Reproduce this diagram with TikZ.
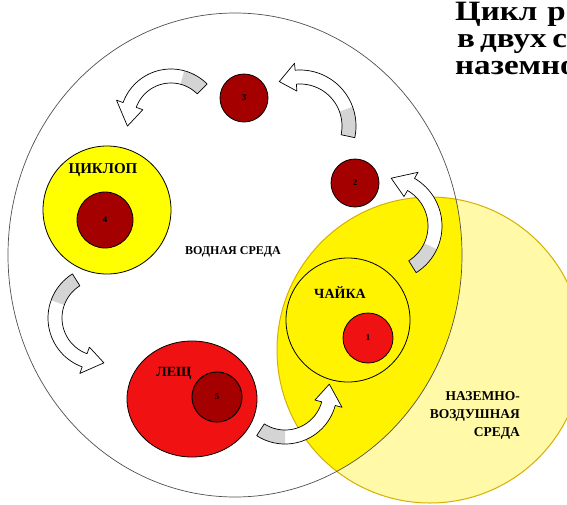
\documentclass[tikz,border=0pt]{standalone}
\usepackage{fontspec}
\setmainfont{Liberation Serif}
\newfontfamily\titlefont{Liberation Serif}[FakeStretch=1.18]
\usetikzlibrary{shapes.geometric}
\definecolor{dred}{RGB}{165,0,0}
\definecolor{bred}{RGB}{240,18,18}
\definecolor{yel}{RGB}{255,243,0}
\definecolor{cyel}{RGB}{255,255,0}
\definecolor{pale}{RGB}{255,249,168}
\definecolor{gold}{RGB}{214,176,0}
\definecolor{agray}{RGB}{212,212,212}
\definecolor{wline}{RGB}{80,80,80}
\def\aw{7}\def\ah{14}
% curved block arrow outline: centre x, centre y, radius, tail angle, head-base angle, tip offset
\newcommand{\arrowshape}[6]{%
 plot[domain=#4:#5, samples=40, variable=\t] ({#1+(#3+\aw)*cos(\t)},{#2+(#3+\aw)*sin(\t)})
 -- ({#1+(#3+\ah)*cos(#5)},{#2+(#3+\ah)*sin(#5)})
 -- ({#1+#3*cos(#5+#6)},{#2+#3*sin(#5+#6)})
 -- ({#1+(#3-\ah)*cos(#5)},{#2+(#3-\ah)*sin(#5)})
 -- plot[domain=#5:#4, samples=40, variable=\t] ({#1+(#3-\aw)*cos(\t)},{#2+(#3-\aw)*sin(\t)})
 -- cycle}
\newcommand{\bandshape}[5]{%
 plot[domain=#4:#5, samples=30, variable=\t] ({#1+(#3+\aw)*cos(\t)},{#2+(#3+\aw)*sin(\t)})
 -- plot[domain=#5:#4, samples=30, variable=\t] ({#1+(#3-\aw)*cos(\t)},{#2+(#3-\aw)*sin(\t)})
 -- cycle}
\newcommand{\arrowfill}[7]{%
 \fill[white] \arrowshape{#1}{#2}{#3}{#4}{#5}{#6};
 \fill[agray] \bandshape{#1}{#2}{#3}{#4}{#7};}
\newcommand{\arrowline}[6]{%
 \draw[black, line width=0.7pt, line join=round] \arrowshape{#1}{#2}{#3}{#4}{#5}{#6};}
\newcommand{\blockarrow}[7]{\arrowfill{#1}{#2}{#3}{#4}{#5}{#6}{#7}\arrowline{#1}{#2}{#3}{#4}{#5}{#6}}
\begin{document}
\begin{tikzpicture}[x=1pt,y=-1pt,
  ball/.style={circle, draw=black, line width=0.8pt, inner sep=0pt, font=\bfseries\fontsize{9}{10}\selectfont},
  lbl/.style={inner sep=0pt, font=\bfseries\fontsize{14}{15}\selectfont},
  small/.style={inner sep=0pt, font=\bfseries\fontsize{12}{13}\selectfont},
  side/.style={inner sep=0pt, anchor=base east, font=\bfseries\fontsize{13.5}{14}\selectfont},
  head/.style={inner sep=0pt, anchor=base west, font=\titlefont\bfseries\fontsize{28}{29}\selectfont}]
\useasboundingbox (0,0) rectangle (567,504);
\fill[white] (0,0) rectangle (567,504);
\def\landshape{(430,350) circle [radius=153]}
% land-air environment (pale part)
\fill[pale] \landshape;
% overlap with the water environment
\begin{scope}
 \clip (235,255) ellipse [x radius=227, y radius=242];
 \fill[yel] \landshape;
\end{scope}
\draw[gold, line width=1pt] \landshape;
% water environment
\draw[wline, line width=0.7pt] (235,255) ellipse [x radius=227, y radius=242];
% arrows
\blockarrow{171}{120}{44}{-45}{-160}{-28}{-75}
\blockarrow{300}{126}{49}{12}{-95}{-20}{-20}
\blockarrow{387}{226}{48}{58}{-60}{-25}{25}
\blockarrow{100}{318}{45}{238}{110}{-25}{200}
\arrowfill{285}{392}{45}{123}{15}{-25}{90}
% nodes
\node[ball, fill=dred, minimum size=48pt] (c3) at (244,98) {3};
\node[ball, fill=dred, minimum size=48pt] (c2) at (355,183) {2};
\node[circle, draw=black, line width=0.8pt, fill=cyel, minimum size=128pt] (cyclops) at (107,210) {};
\node[ball, fill=dred, minimum size=56pt] (c4) at (105,220) {4};
\node[lbl, font=\bfseries\fontsize{15}{16}\selectfont] (tcyc) at (103,170) {ЦИКЛОП};
\node[ellipse, draw=black, line width=0.8pt, fill=bred, minimum width=130pt, minimum height=116pt] (bream) at (192,399) {};
\node[ball, fill=dred, line width=1pt, minimum size=50pt] (c5) at (217,397) {5};
\node[lbl] (tbream) at (174,373) {ЛЕЩ};
\node[circle, draw=black, line width=0.8pt, fill=yel, minimum size=124pt] (gull) at (348,320) {};
\node[ball, fill=bred, minimum size=50pt] (c1) at (368,338) {1};
\node[lbl] (tgull) at (340,293) {ЧАЙКА};
\arrowline{285}{392}{45}{123}{15}{-25}
\node[small] (twater) at (233,252) {ВОДНАЯ СРЕДА};
\node[side] (tl1) at (520,400) {НАЗЕМНО-};
\node[side] (tl2) at (520,418) {ВОЗДУШНАЯ};
\node[side] (tl3) at (520,436) {СРЕДА};
% title (cut by the picture edge, as in the reference)
\node[head] (h1) at (455,20) {Цикл\hspace{10pt}р};
\node[head] (h2) at (457,47) {в\hspace{5pt}двух\hspace{6pt}с};
\node[head] (h3) at (455,74) {наземно};
\end{tikzpicture}
\end{document}
